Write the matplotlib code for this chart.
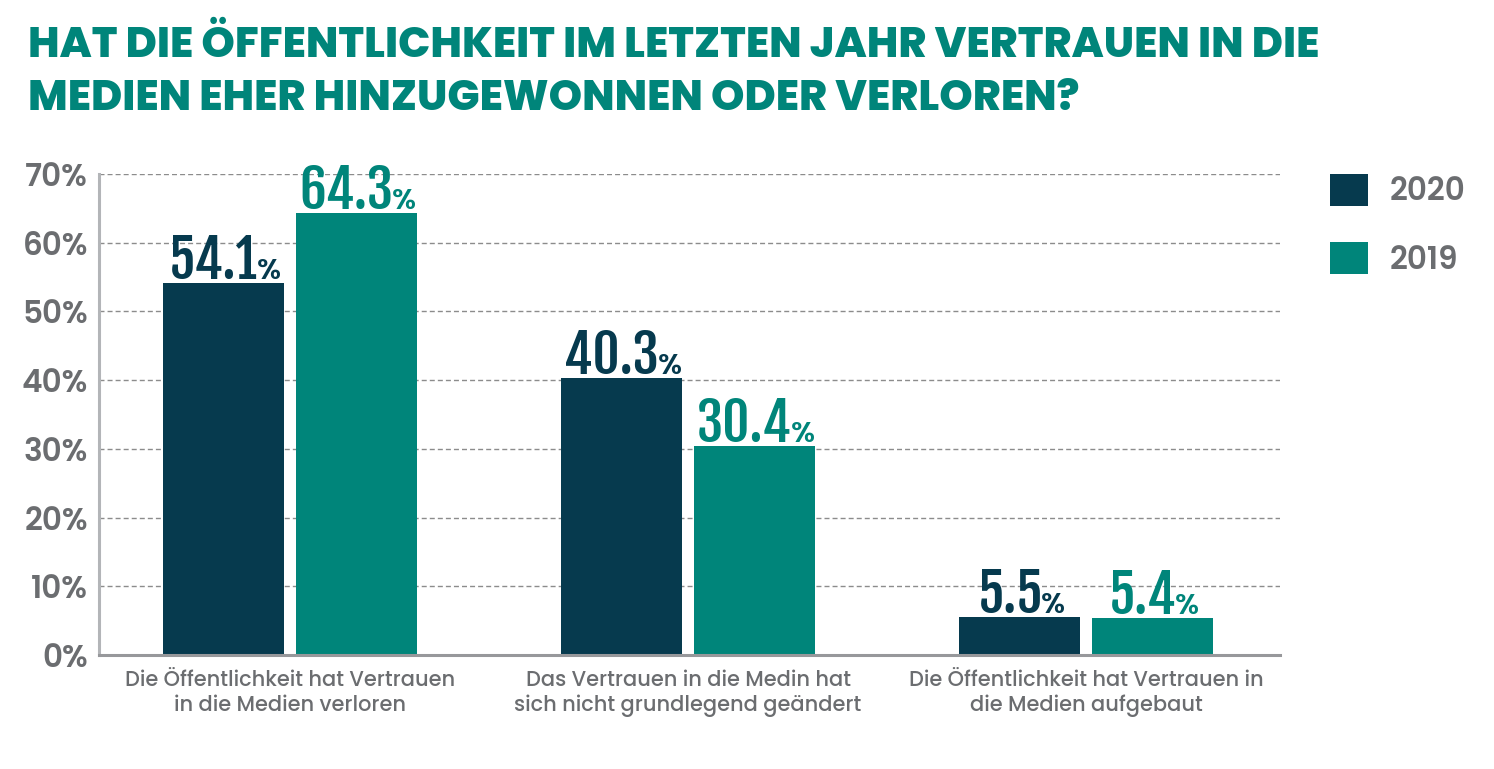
import numpy as np
import matplotlib.pyplot as plt
from matplotlib import font_manager
from matplotlib.font_manager import FontProperties
from matplotlib.textpath import TextPath

kategorien = ["Die Öffentlichkeit hat Vertrauen\nin die Medien verloren",
              "Das Vertrauen in die Medin hat\nsich nicht grundlegend geändert",
              "Die Öffentlichkeit hat Vertrauen in\ndie Medien aufgebaut"]
werte_2020 = [54.1, 40.3, 5.5]
werte_2019 = [64.3, 30.4, 5.4]
jahre = ["2020", "2019"]
y_ticks = [0, 10, 20, 30, 40, 50, 60, 70]
titel = ["HAT DIE ÖFFENTLICHKEIT IM LETZTEN JAHR VERTRAUEN IN DIE",
         "MEDIEN EHER HINZUGEWONNEN ODER VERLOREN?"]

DUNKEL = "#063a4e"
TEAL = "#00857a"
GRAU = "#6b6d70"


def gewicht(f):
    if isinstance(f.weight, int):
        return f.weight
    return font_manager.weight_dict.get(f.weight, 400)


# statische Schriftdatei suchen (variable Fonts kann matplotlib nicht fett setzen)
def schrift(kandidaten):
    for name, gew in kandidaten:
        dateien = [f for f in font_manager.fontManager.ttflist
                   if f.name == name and f.style == "normal" and "[" not in f.fname]
        if dateien:
            best = min(dateien, key=lambda f: abs(gewicht(f) - gew))
            return FontProperties(fname=best.fname)
    return FontProperties(family="DejaVu Sans", weight="bold")


def groesse(fp, text, px, achse="h"):
    p = fp.copy()
    p.set_size(100)
    ext = TextPath((0, 0), text, prop=p).get_extents()
    mass = ext.height if achse == "h" else ext.width
    return px * 0.72 / mass * 100


def mit_groesse(fp, s):
    p = fp.copy()
    p.set_size(s)
    return p


f_titel = schrift([("Montserrat", 800), ("Poppins", 800), ("Lato", 900)])
f_text = schrift([("Montserrat", 600), ("Poppins", 600), ("Lato", 700)])
f_kat = schrift([("Montserrat", 600), ("Poppins", 500), ("Lato", 700)])
f_zahl = schrift([("Oswald", 700), ("Fjalla One", 400), ("Barlow Condensed", 800),
                  ("Fira Sans Extra Condensed", 700)])

s_titel = min(groesse(f_titel, titel[0], 1338, "w"), groesse(f_titel, "H", 30))
s_tick = min(groesse(f_text, "70%", 63, "w"), groesse(f_text, "0", 23))
s_kat = groesse(f_kat, "Die Öffentlichkeit hat Vertrauen", 327, "w")
s_zahl = min(groesse(f_zahl, "64.3", 90, "w"), groesse(f_zahl, "0", 45))
s_proz = min(groesse(f_text, "%", 24, "w"), groesse(f_text, "%", 21))

fig = plt.figure(figsize=(14.94, 7.69), dpi=100)
ax = fig.add_axes([99 / 1494, 1 - 655 / 769, (1280 - 99) / 1494, (655 - 174) / 769])

x = np.arange(len(kategorien))
breite = 0.304
versatz = 0.167
b1 = ax.bar(x - versatz, werte_2020, breite, color=DUNKEL, label=jahre[0], zorder=3)
b2 = ax.bar(x + versatz, werte_2019, breite, color=TEAL, label=jahre[1], zorder=3)

ax.set_xlim(-0.48, 2.487)
ax.set_ylim(0, 70)
ax.set_yticks(y_ticks)
ax.set_yticklabels([f"{t}%" for t in y_ticks], fontproperties=mit_groesse(f_text, s_tick), color=GRAU)
ax.set_xticks(x)
ax.set_xticklabels(kategorien, fontproperties=mit_groesse(f_kat, s_kat), color=GRAU, linespacing=1.15)
ax.tick_params(axis="both", length=0)
ax.tick_params(axis="y", pad=8)
ax.tick_params(axis="x", pad=11)

ax.grid(axis="y", linestyle=(0, (3.6, 2.2)), color="#8c8c8c", linewidth=1, zorder=0)
for s in ["top", "right"]:
    ax.spines[s].set_visible(False)
ax.spines["left"].set_color("#b3b5b8")
ax.spines["left"].set_linewidth(2.2)
ax.spines["bottom"].set_color("#97989b")
ax.spines["bottom"].set_linewidth(2.2)
ax.spines["bottom"].set_zorder(4)

p_zahl = mit_groesse(f_zahl, s_zahl)
p_proz = mit_groesse(f_text, s_proz)
w_proz = TextPath((0, 0), "%", prop=p_proz).get_extents().width
for bars, farbe in [(b1, DUNKEL), (b2, TEAL)]:
    for r in bars:
        h = r.get_height()
        cx = r.get_x() + r.get_width() / 2
        txt = f"{h:.1f}"
        w_zahl = TextPath((0, 0), txt, prop=p_zahl).get_extents().width
        x0 = -(w_zahl + 2 + w_proz) / 2
        ax.annotate(txt, (cx, h), xytext=(x0, 3), textcoords="offset points",
                    ha="left", va="baseline", fontproperties=p_zahl, color=farbe)
        ax.annotate("%", (cx, h), xytext=(x0 + w_zahl + 2.5, 3), textcoords="offset points",
                    ha="left", va="baseline", fontproperties=p_proz, color=farbe)

s_leg_px = s_tick * 100 / 72
leg = ax.legend(handles=[b1, b2], loc="upper left", bbox_to_anchor=(1330 / 1494, 1 - 174 / 769),
                bbox_transform=fig.transFigure, frameon=False, prop=mit_groesse(f_text, s_tick),
                borderpad=0, borderaxespad=0,
                handlelength=38 / s_leg_px, handleheight=37 / s_leg_px,
                labelspacing=34 / s_leg_px, handletextpad=22 / s_leg_px)
for t in leg.get_texts():
    t.set_color(GRAU)

p_titel = mit_groesse(f_titel, s_titel)
fig.text(28 / 1494, 1 - 57 / 769, titel[0], fontproperties=p_titel, color=TEAL, ha="left", va="baseline")
fig.text(28 / 1494, 1 - 110 / 769, titel[1], fontproperties=p_titel, color=TEAL, ha="left", va="baseline")

fig.savefig("out.png", dpi=100)
